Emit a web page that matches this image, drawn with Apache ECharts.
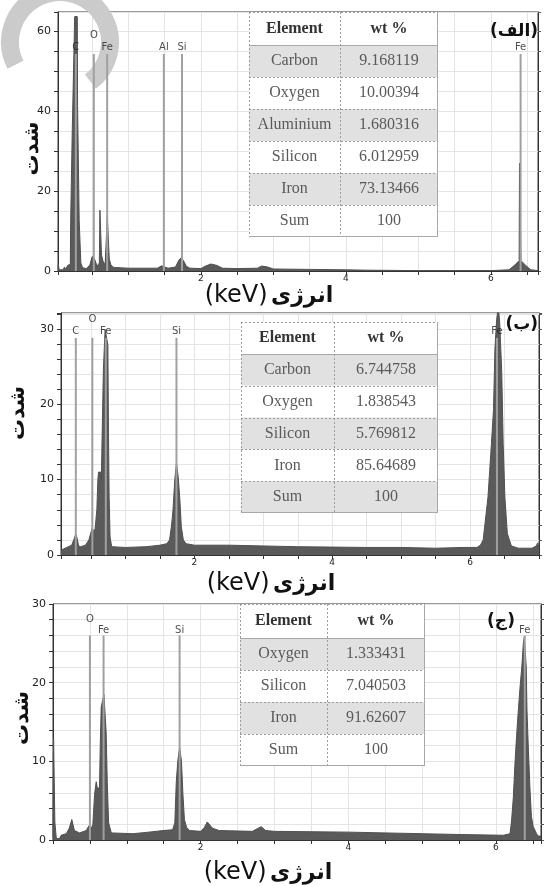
<!DOCTYPE html>
<html>
<head>
<meta charset="utf-8">
<title>EDS</title>
<script src="https://cdn.jsdelivr.net/npm/echarts@6/dist/echarts.min.js"></script>
<style>
html,body{margin:0;padding:0;background:#fff;}
#chart{width:544px;height:886px;}
</style>
</head>
<body>
<div id="chart"></div>
<script>
// 能谱 (الف)  [keV, 计数]
const spectrumA = [
	[0.03,0.3],[0.035,1.7],[0.045,0.3],[0.1,0.3],[0.12,1.0],[0.13,0.4],[0.15,0.8],[0.17,1.5],[0.2,1.6],
	[0.205,12.7],[0.222,12.7],[0.226,34.5],[0.246,34.5],[0.26,63.6],[0.296,63.6],[0.3,41.5],[0.318,41.5],
	[0.322,12.7],[0.338,12.7],[0.345,2],[0.37,0.8],[0.42,0.6],[0.47,1.5],[0.5,3.6],[0.53,3.2],[0.57,1.2],
	[0.6,2],[0.608,15.2],[0.625,15.2],[0.63,4],[0.65,2.5],[0.68,1.5],[0.705,2],[0.71,13.6],[0.732,13.6],
	[0.737,3],[0.76,1.5],[0.8,0.9],[1.0,0.7],[1.2,0.7],[1.4,0.7],[1.46,1.3],[1.5,1.0],[1.55,0.7],[1.65,1.0],
	[1.7,2.8],[1.73,3.3],[1.76,2.6],[1.8,1.2],[1.85,0.7],[2.0,0.6],[2.06,1.2],[2.14,1.75],[2.22,1.4],[2.3,0.7],
	[2.5,0.6],[2.78,0.7],[2.84,1.25],[2.92,1.0],[3.0,0.5],[3.5,0.4],[4.0,0.3],[4.3,0.2],[5.0,0.1],[6.0,0.1],
	[6.25,0.3],[6.33,1.5],[6.39,2.6],[6.395,27],[6.41,27],[6.415,2.6],[6.48,1.4],[6.55,0.3],[6.65,0.1]
];
// 能谱 (ب)
const spectrumB = [
	[0.065,0.6],[0.1,0.8],[0.15,1.0],[0.22,1.3],[0.25,2.0],[0.28,2.8],[0.3,2.2],[0.32,1.2],[0.35,1.1],[0.42,1.3],
	[0.47,2.0],[0.5,3.0],[0.52,3.6],[0.54,3.0],[0.56,3.5],[0.585,6],[0.6,10],[0.61,11],[0.64,11],[0.65,10],
	[0.67,10],[0.68,24.6],[0.705,29.9],[0.73,29.9],[0.745,27.9],[0.754,16.2],[0.763,7.7],[0.777,2.4],[0.8,1.1],
	[1.0,1.0],[1.3,1.1],[1.5,1.3],[1.6,1.5],[1.64,2],[1.67,4],[1.69,6],[1.716,10],[1.74,12.2],[1.765,10.4],
	[1.79,7.3],[1.81,3.8],[1.84,2],[1.88,1.5],[2.0,1.3],[2.5,1.3],[3.0,1.2],[3.5,1.1],[4.0,1.05],[4.5,1.0],
	[5.0,1.0],[5.5,0.9],[5.9,1.0],[6.1,1.0],[6.15,1.3],[6.19,2],[6.26,7.7],[6.31,14.8],[6.34,19.3],[6.36,27.2],
	[6.385,31.2],[6.41,33],[6.43,30.8],[6.46,24.1],[6.48,14.8],[6.505,7.7],[6.54,2.9],[6.57,2],[6.6,1.2],
	[6.7,0.9],[6.9,0.9],[6.96,1.2],[6.98,1.6],[7.0,0.9]
];
// 能谱 (ج)
const spectrumC = [
	[0,0.3],[0.008,13],[0.02,13],[0.025,2.3],[0.035,2.3],[0.045,0.2],[0.09,0.2],[0.11,0.6],[0.18,0.8],[0.22,1.5],
	[0.255,2.6],[0.29,1.2],[0.36,0.9],[0.45,1.2],[0.486,1.8],[0.52,1.5],[0.54,2],[0.563,5.8],[0.585,7.4],
	[0.6,6.6],[0.63,6.6],[0.64,12],[0.653,16.9],[0.675,16.8],[0.69,18.5],[0.705,18.5],[0.72,13.7],[0.735,7.4],
	[0.753,2.2],[0.79,0.9],[1.08,0.8],[1.3,1.0],[1.49,1.2],[1.62,1.3],[1.65,2.2],[1.67,7.4],[1.69,10],
	[1.715,11.8],[1.74,10],[1.76,5.8],[1.78,2.6],[1.81,1.6],[1.85,1.2],[2.0,1.1],[2.05,1.6],[2.09,2.3],
	[2.16,1.5],[2.25,1.2],[2.7,1.1],[2.78,1.5],[2.82,1.7],[2.88,1.2],[3.0,1.1],[4.0,1.0],[5.0,0.8],[5.5,0.7],
	[6.1,0.6],[6.19,0.8],[6.21,2.3],[6.235,5.4],[6.26,10.2],[6.28,13.3],[6.3,16.1],[6.325,19.3],[6.35,22],
	[6.37,24.9],[6.384,25.8],[6.395,25.8],[6.41,22],[6.42,16.5],[6.44,11.3],[6.46,6.6],[6.48,3],[6.505,1.7],
	[6.55,0.8],[6.57,0.5],[6.61,0.5]
];

// 元素标记线
const markNamesA   = ['C','O','Fe','Al','Si','Fe'];
const markEnergyA  = [0.276,0.524,0.708,1.49,1.74,6.41];
const markTopA     = 54.25;
const markLabelA   = [56,59,56,56,56,56];
const markNamesB   = ['C','O','Fe','Si','Fe'];
const markEnergyB  = [0.28,0.52,0.715,1.74,6.39];
const markTopB     = 28.8;
const markLabelB   = [29.6,31.2,29.6,29.6,29.6];
const markNamesC   = ['O','Fe','Si','Fe'];
const markEnergyC  = [0.5,0.685,1.715,6.39];
const markTopC     = 26;
const markLabelC   = [28,26.7,26.7,26.7];

// 表格数据
const tableHead  = ['Element','wt %'];
const elementsA  = ['Carbon','Oxygen','Aluminium','Silicon','Iron','Sum'];
const wtA        = ['9.168119','10.00394','1.680316','6.012959','73.13466','100'];
const elementsB  = ['Carbon','Oxygen','Silicon','Iron','Sum'];
const wtB        = ['6.744758','1.838543','5.769812','85.64689','100'];
const elementsC  = ['Oxygen','Silicon','Iron','Sum'];
const wtC        = ['1.333431','7.040503','91.62607','100'];

// 标题文字
const panelTags  = ['(الف)','(ب)','(ج)'];
const xName      = '{a|(keV)} {b|انرژی}';
const yName      = 'شدت';

const chart = echarts.init(document.getElementById('chart'), null, {renderer:'canvas'});
const INK = '#222', GRIDC = '#e4e4e4';

// 面板布局
let panels = [
	{spec:spectrumA, names:markNamesA, energy:markEnergyA, top:markTopA, lab:markLabelA,
	 grid:{left:58, top:12, width:480, height:259}, xMin:0.03, xMax:6.65, yMax:64.75, yStep:5, yLab:20,
	 xGap:5, yGap:15, yPad:[0,14,0,0]},
	{spec:spectrumB, names:markNamesB, energy:markEnergyB, top:markTopB, lab:markLabelB,
	 grid:{left:59, top:313, width:480, height:242}, xMin:0.065, xMax:7.0, yMax:32.1, yStep:2, yLab:10,
	 xGap:17, yGap:32, yPad:[0,0,0,42]},
	{spec:spectrumC, names:markNamesC, energy:markEnergyC, top:markTopC, lab:markLabelC,
	 grid:{left:53, top:604, width:488, height:243}, xMin:0, xMax:6.61, yMax:30, yStep:2, yLab:10,
	 xGap:21, yGap:20, yPad:[0,0,0,8]}
];

function evenLabel(v){
	let r = Math.round(v);
	return (Math.abs(v - r) < 1e-6 && r > 0 && r % 2 === 0) ? String(r) : '';
}
function stepLabel(step){
	return v => { let r = Math.round(v); return (Math.abs(v - r) < 1e-6 && r % step === 0) ? String(r) : ''; };
}

let grids = [], xAxes = [], yAxes = [], series = [];
panels.forEach((p, i) => {
	grids.push(Object.assign({show:true, borderColor:'#333', borderWidth:1, backgroundColor:'#fff'}, p.grid));
	xAxes.push({
		type:'value', gridIndex:i, min:p.xMin, max:p.xMax, splitNumber:13,
		axisLine:{show:true, onZero:false, lineStyle:{color:'#333'}},
		axisTick:{show:true, length:4, lineStyle:{color:'#333'}},
		axisLabel:{fontSize:9, color:INK, margin:3, fontFamily:'DejaVu Sans', formatter:evenLabel},
		splitLine:{show:true, lineStyle:{color:GRIDC}},
		name:xName, nameLocation:'middle', nameGap:p.xGap,
		nameTextStyle:{padding:[0,58,0,0], rich:{
			a:{fontSize:24, fontFamily:'DejaVu Sans', color:'#111'},
			b:{fontSize:22, fontFamily:'DejaVu Sans', fontWeight:'bold', color:'#111'}}}
	});
	yAxes.push({
		type:'value', gridIndex:i, position:'left', min:0, max:p.yMax, interval:p.yStep,
		axisLine:{show:true, lineStyle:{color:'#333'}},
		axisTick:{show:true, length:4, lineStyle:{color:'#333'}},
		axisLabel:{fontSize:11, color:INK, margin:7, fontFamily:'DejaVu Sans', formatter:stepLabel(p.yLab)},
		splitLine:{show:true, lineStyle:{color:GRIDC}},
		name:yName, nameLocation:'middle', nameRotate:90, nameGap:p.yGap, nameMoveOverlap:false,
		nameTextStyle:{fontSize:21, fontWeight:'bold', fontFamily:'DejaVu Sans', color:'#111', padding:p.yPad}
	});
	yAxes.push({
		type:'value', gridIndex:i, position:'right', min:0, max:p.yMax, interval:p.yStep,
		axisLine:{show:true, lineStyle:{color:'#333'}},
		axisTick:{show:true, length:3, lineStyle:{color:'#555'}},
		axisLabel:{show:false}, splitLine:{show:false}
	});
	// 能谱曲线
	series.push({
		type:'line', xAxisIndex:i, yAxisIndex:2 * i, data:p.spec, symbol:'none', z:3,
		lineStyle:{color:'#505050', width:1}, areaStyle:{color:'#5a5a5a', opacity:1}, silent:true
	});
	// 标记线
	series.push({
		type:'bar', xAxisIndex:i, yAxisIndex:2 * i, barWidth:2, z:4, silent:true,
		data:p.energy.map(e => [e, p.top]), itemStyle:{color:'#a0a0a0'}
	});
	// 元素标签
	series.push({
		type:'scatter', xAxisIndex:i, yAxisIndex:2 * i, symbolSize:1, z:5, silent:true,
		itemStyle:{color:'rgba(0,0,0,0)'},
		data:p.names.map((n, k) => ({name:n, value:[p.energy[k], p.lab[k]]})),
		label:{show:true, position:'inside', formatter:'{b}', fontSize:10, color:INK, fontFamily:'DejaVu Sans'}
	});
});

// 表格 graphic
function tableGraphic(t, names, values){
	let items = [];
	let W = t.right - t.left;
	let txt = (s, x, y, head) => ({type:'text', z:12, style:{text:s, x:x, y:y, align:'center', verticalAlign:'middle',
		font:(head ? 'bold ' : '') + '16px "Liberation Serif"', fill:head ? '#333' : '#5a5a5a'}});
	let ln = (x1, y1, x2, y2, dash) => ({type:'line', z:11, shape:{x1:x1, y1:y1, x2:x2, y2:y2},
		style:{stroke:dash ? '#9c9c9c' : '#a8a8a8', lineWidth:1, lineDash:dash ? [2,2] : null}});
	let box = (y, h, fill) => ({type:'rect', z:10, shape:{x:t.left, y:y, width:W, height:h}, style:{fill:fill}});
	items.push(box(t.top, t.headH, '#fff'));
	items.push(txt(tableHead[0], (t.left + t.mid) / 2, t.top + t.headH / 2, true));
	items.push(txt(tableHead[1], (t.mid + t.right) / 2, t.top + t.headH / 2, true));
	let y = t.top + t.headH;
	names.forEach((n, i) => {
		items.push(box(y, t.rowH, i % 2 === 0 ? '#e1e1e1' : '#fff'));
		items.push(ln(t.left, Math.round(y) + 0.5, t.right, Math.round(y) + 0.5, i > 0));
		items.push(txt(n, (t.left + t.mid) / 2, y + t.rowH / 2, false));
		items.push(txt(values[i], (t.mid + t.right) / 2, y + t.rowH / 2, false));
		y += t.rowH;
	});
	y = Math.round(y);
	items.push(ln(t.mid + 0.5, t.top, t.mid + 0.5, y, true));
	items.push(ln(t.left + 0.5, t.top, t.left + 0.5, y, true));
	items.push(ln(t.left, t.top + 0.5, t.right, t.top + 0.5, true));
	items.push(ln(t.right - 0.5, t.top, t.right - 0.5, y, false));
	items.push(ln(t.left, y - 0.5, t.right, y - 0.5, false));
	return {type:'group', children:items};
}

let graphics = [
	// 水印
	{type:'arc', z:1, silent:true, shape:{cx:60, cy:42, r:50, startAngle:2.67, endAngle:7.2, clockwise:true},
	 style:{stroke:'#cbcbcb', lineWidth:18, fill:null}},
	tableGraphic({left:249, mid:340, right:438, top:12, headH:33, rowH:32}, elementsA, wtA),
	tableGraphic({left:241, mid:334, right:438, top:322, headH:32, rowH:31.8}, elementsB, wtB),
	tableGraphic({left:240, mid:327, right:425, top:604, headH:34, rowH:32}, elementsC, wtC),
	{type:'text', z:13, style:{text:panelTags[0], x:538, y:32, align:'right', verticalAlign:'middle', font:'bold 17px "DejaVu Sans"', fill:'#111'}},
	{type:'text', z:13, style:{text:panelTags[1], x:538, y:325, align:'right', verticalAlign:'middle', font:'bold 17px "DejaVu Sans"', fill:'#111'}},
	{type:'text', z:13, style:{text:panelTags[2], x:501, y:622, align:'center', verticalAlign:'middle', font:'bold 17px "DejaVu Sans"', fill:'#111'}}
];

chart.setOption({
	animation:false,
	backgroundColor:'#fff',
	grid:grids,
	xAxis:xAxes,
	yAxis:yAxes,
	series:series,
	graphic:graphics
});
</script>
</body>
</html>
